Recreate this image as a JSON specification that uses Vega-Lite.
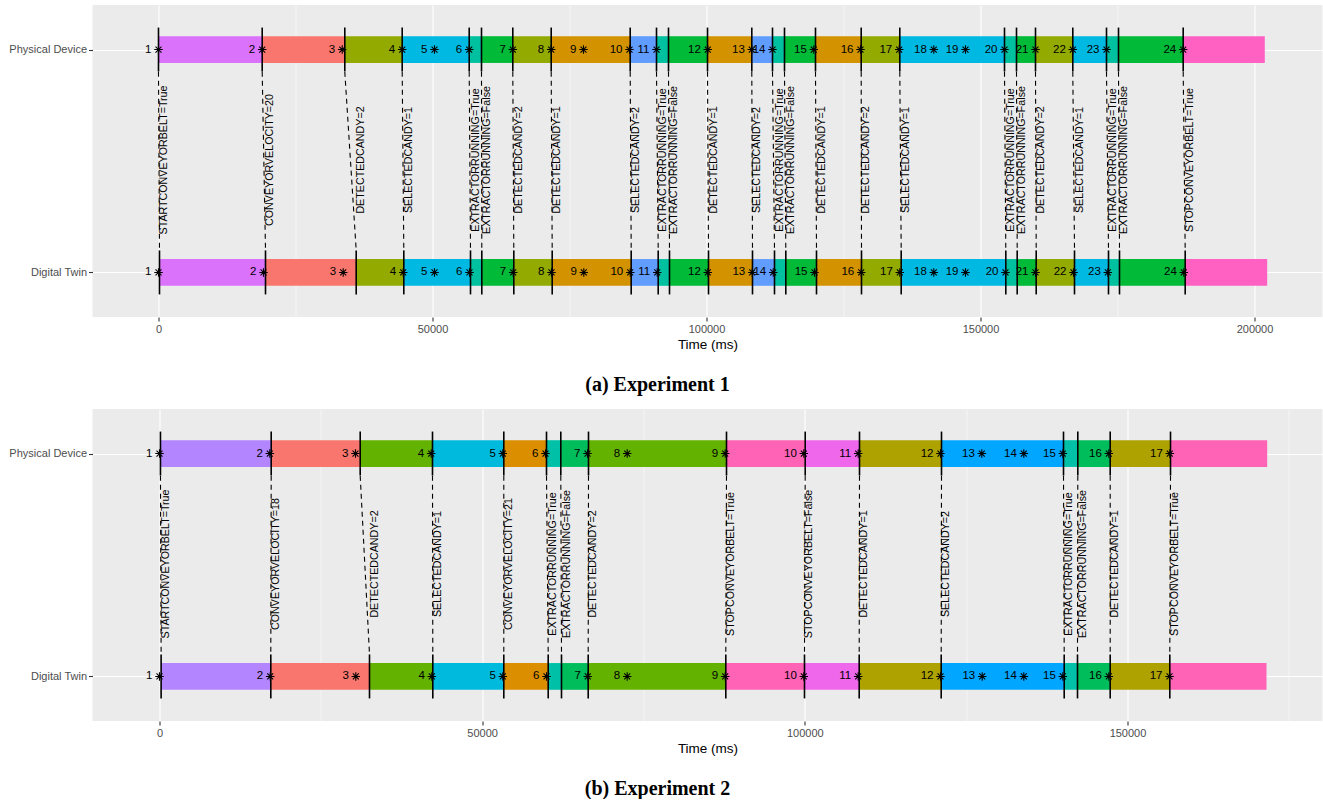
{
  "$schema": "https://vega.github.io/schema/vega-lite/v6.json",
  "padding": {"left": 8.5, "top": 5, "right": 0, "bottom": 0},
  "background": "white",
  "bounds": "flush",
  "spacing": 92,
  "resolve": {"scale": {"x": "independent", "y": "independent", "color": "independent"}},
  "config": {
    "view": {"fill": "#EBEBEB", "stroke": null},
    "font": "Liberation Sans",
    "axis": {
      "domain": false, "grid": true, "gridColor": "white", "gridWidth": 1.1, "zindex": 0,
      "tickColor": "#333333", "tickSize": 4, "tickWidth": 1.1,
      "labelColor": "#4D4D4D", "labelFontSize": 11, "labelFont": "Liberation Sans", "labelPadding": 2,
      "titleFont": "Liberation Sans", "titleFontSize": 13.5, "titleFontWeight": "normal", "titleColor": "black", "titlePadding": 3
    }
  },
  "datasets": {
    "seg1": [
      {"state": "belt started", "p0": 0, "p1": 18923, "t0": 180, "t1": 19525},
      {"state": "velocity set", "p0": 18923, "p1": 33996, "t0": 19525, "t1": 36076},
      {"state": "candy 2 detected", "p0": 33996, "p1": 44470, "t0": 36076, "t1": 44762},
      {"state": "candy 1 selected", "p0": 44470, "p1": 56697, "t0": 44762, "t1": 56934},
      {"state": "extractor on", "p0": 56697, "p1": 58941, "t0": 56934, "t1": 58996},
      {"state": "extractor off", "p0": 58941, "p1": 64653, "t0": 58996, "t1": 64835},
      {"state": "candy 2 detected", "p0": 64653, "p1": 71660, "t0": 64835, "t1": 71842},
      {"state": "candy 1 detected", "p0": 71660, "p1": 86076, "t0": 71842, "t1": 86258},
      {"state": "candy 2 selected", "p0": 86076, "p1": 90875, "t0": 86258, "t1": 91185},
      {"state": "extractor on", "p0": 90875, "p1": 93065, "t0": 91185, "t1": 93247},
      {"state": "extractor off", "p0": 93065, "p1": 100182, "t0": 93247, "t1": 100364},
      {"state": "candy 1 detected", "p0": 100182, "p1": 108265, "t0": 100364, "t1": 108393},
      {"state": "candy 2 selected", "p0": 108265, "p1": 112043, "t0": 108393, "t1": 112408},
      {"state": "extractor on", "p0": 112043, "p1": 114232, "t0": 112408, "t1": 114470},
      {"state": "extractor off", "p0": 114232, "p1": 119889, "t0": 114470, "t1": 120072},
      {"state": "candy 1 detected", "p0": 119889, "p1": 128229, "t0": 120072, "t1": 128283},
      {"state": "candy 2 detected", "p0": 128229, "p1": 135272, "t0": 128283, "t1": 135528},
      {"state": "candy 1 selected", "p0": 135272, "p1": 154378, "t0": 135528, "t1": 154616},
      {"state": "extractor on", "p0": 154378, "p1": 156568, "t0": 154616, "t1": 156696},
      {"state": "extractor off", "p0": 156568, "p1": 160035, "t0": 156696, "t1": 160163},
      {"state": "candy 2 detected", "p0": 160035, "p1": 166841, "t0": 160163, "t1": 167152},
      {"state": "candy 1 selected", "p0": 166841, "p1": 172991, "t0": 167152, "t1": 173356},
      {"state": "extractor on", "p0": 172991, "p1": 175181, "t0": 173356, "t1": 175363},
      {"state": "extractor off", "p0": 175181, "p1": 186987, "t0": 175363, "t1": 187352},
      {"state": "belt stopped", "p0": 186987, "p1": 201878, "t0": 187352, "t1": 202316}
    ],
    "ev1": [
      {"label": "STARTCONVEYORBELT=True", "tPhys": 0, "tTwin": 180},
      {"label": "CONVEYORVELOCITY=20", "tPhys": 18923, "tTwin": 19525},
      {"label": "DETECTEDCANDY=2", "tPhys": 33996, "tTwin": 36076},
      {"label": "SELECTEDCANDY=1", "tPhys": 44470, "tTwin": 44762},
      {"label": "EXTRACTORRUNNING=True", "tPhys": 56697, "tTwin": 56934},
      {"label": "EXTRACTORRUNNING=False", "tPhys": 58941, "tTwin": 58996},
      {"label": "DETECTEDCANDY=2", "tPhys": 64653, "tTwin": 64835},
      {"label": "DETECTEDCANDY=1", "tPhys": 71660, "tTwin": 71842},
      {"label": "SELECTEDCANDY=2", "tPhys": 86076, "tTwin": 86258},
      {"label": "EXTRACTORRUNNING=True", "tPhys": 90875, "tTwin": 91185},
      {"label": "EXTRACTORRUNNING=False", "tPhys": 93065, "tTwin": 93247},
      {"label": "DETECTEDCANDY=1", "tPhys": 100182, "tTwin": 100364},
      {"label": "SELECTEDCANDY=2", "tPhys": 108265, "tTwin": 108393},
      {"label": "EXTRACTORRUNNING=True", "tPhys": 112043, "tTwin": 112408},
      {"label": "EXTRACTORRUNNING=False", "tPhys": 114232, "tTwin": 114470},
      {"label": "DETECTEDCANDY=1", "tPhys": 119889, "tTwin": 120072},
      {"label": "DETECTEDCANDY=2", "tPhys": 128229, "tTwin": 128283},
      {"label": "SELECTEDCANDY=1", "tPhys": 135272, "tTwin": 135528},
      {"label": "EXTRACTORRUNNING=True", "tPhys": 154378, "tTwin": 154616},
      {"label": "EXTRACTORRUNNING=False", "tPhys": 156568, "tTwin": 156696},
      {"label": "DETECTEDCANDY=2", "tPhys": 160035, "tTwin": 160163},
      {"label": "SELECTEDCANDY=1", "tPhys": 166841, "tTwin": 167152},
      {"label": "EXTRACTORRUNNING=True", "tPhys": 172991, "tTwin": 173356},
      {"label": "EXTRACTORRUNNING=False", "tPhys": 175181, "tTwin": 175363},
      {"label": "STOPCONVEYORBELT=True", "tPhys": 186987, "tTwin": 187352}
    ],
    "pt1": [
      {"n": "1", "tPhys": 0, "tTwin": 0},
      {"n": "2", "tPhys": 18923, "tTwin": 19160},
      {"n": "3", "tPhys": 33522, "tTwin": 33704},
      {"n": "4", "tPhys": 44470, "tTwin": 44650},
      {"n": "5", "tPhys": 50364, "tTwin": 50364},
      {"n": "6", "tPhys": 56697, "tTwin": 56752},
      {"n": "7", "tPhys": 64653, "tTwin": 64720},
      {"n": "8", "tPhys": 71660, "tTwin": 71715},
      {"n": "9", "tPhys": 77554, "tTwin": 77609},
      {"n": "10", "tPhys": 85948, "tTwin": 86076},
      {"n": "11", "tPhys": 90875, "tTwin": 91003},
      {"n": "12", "tPhys": 100236, "tTwin": 100236},
      {"n": "13", "tPhys": 108265, "tTwin": 108338},
      {"n": "14", "tPhys": 112043, "tTwin": 112170},
      {"n": "15", "tPhys": 119579, "tTwin": 119707},
      {"n": "16", "tPhys": 128101, "tTwin": 128229},
      {"n": "17", "tPhys": 135162, "tTwin": 135272},
      {"n": "18", "tPhys": 141477, "tTwin": 141477},
      {"n": "19", "tPhys": 147261, "tTwin": 147261},
      {"n": "20", "tPhys": 154378, "tTwin": 154561},
      {"n": "21", "tPhys": 160035, "tTwin": 160035},
      {"n": "22", "tPhys": 166841, "tTwin": 166968},
      {"n": "23", "tPhys": 172991, "tTwin": 173228},
      {"n": "24", "tPhys": 186987, "tTwin": 187097}
    ],
    "seg2": [
      {"state": "belt started", "p0": 150, "p1": 17309, "t0": 250, "t1": 17247},
      {"state": "velocity 18", "p0": 17309, "p1": 31100, "t0": 17247, "t1": 32542},
      {"state": "candy 2 detected", "p0": 31100, "p1": 42304, "t0": 32542, "t1": 42351},
      {"state": "candy 1 selected", "p0": 42304, "p1": 53353, "t0": 42351, "t1": 53353},
      {"state": "velocity 21", "p0": 53353, "p1": 59970, "t0": 53353, "t1": 60233},
      {"state": "extractor on", "p0": 59970, "p1": 62185, "t0": 60233, "t1": 62294},
      {"state": "extractor off", "p0": 62185, "p1": 66478, "t0": 62294, "t1": 66431},
      {"state": "candy 2 detected", "p0": 66478, "p1": 87862, "t0": 66431, "t1": 87754},
      {"state": "belt stopped", "p0": 87862, "p1": 100058, "t0": 87754, "t1": 99949},
      {"state": "belt restarted", "p0": 100058, "p1": 108472, "t0": 99949, "t1": 108425},
      {"state": "candy 1 detected", "p0": 108472, "p1": 121179, "t0": 108425, "t1": 121132},
      {"state": "candy 2 selected", "p0": 121179, "p1": 140084, "t0": 121132, "t1": 140192},
      {"state": "extractor on", "p0": 140084, "p1": 142300, "t0": 140192, "t1": 142253},
      {"state": "extractor off", "p0": 142300, "p1": 147320, "t0": 142253, "t1": 147320},
      {"state": "candy 1 detected", "p0": 147320, "p1": 156665, "t0": 147320, "t1": 156556},
      {"state": "belt stopped", "p0": 156665, "p1": 171649, "t0": 156556, "t1": 171541}
    ],
    "ev2": [
      {"label": "STARTCONVEYORBELT=True", "tPhys": 150, "tTwin": 250},
      {"label": "CONVEYORVELOCITY=18", "tPhys": 17309, "tTwin": 17247},
      {"label": "DETECTEDCANDY=2", "tPhys": 31100, "tTwin": 32542},
      {"label": "SELECTEDCANDY=1", "tPhys": 42304, "tTwin": 42351},
      {"label": "CONVEYORVELOCITY=21", "tPhys": 53353, "tTwin": 53353},
      {"label": "EXTRACTORRUNNING=True", "tPhys": 59970, "tTwin": 60233},
      {"label": "EXTRACTORRUNNING=False", "tPhys": 62185, "tTwin": 62294},
      {"label": "DETECTEDCANDY=2", "tPhys": 66478, "tTwin": 66431},
      {"label": "STOPCONVEYORBELT=True", "tPhys": 87862, "tTwin": 87754},
      {"label": "STOPCONVEYORBELT=False", "tPhys": 100058, "tTwin": 99949},
      {"label": "DETECTEDCANDY=1", "tPhys": 108472, "tTwin": 108425},
      {"label": "SELECTEDCANDY=2", "tPhys": 121179, "tTwin": 121132},
      {"label": "EXTRACTORRUNNING=True", "tPhys": 140084, "tTwin": 140192},
      {"label": "EXTRACTORRUNNING=False", "tPhys": 142300, "tTwin": 142253},
      {"label": "DETECTEDCANDY=1", "tPhys": 147320, "tTwin": 147320},
      {"label": "STOPCONVEYORBELT=True", "tPhys": 156665, "tTwin": 156556}
    ],
    "pt2": [
      {"n": "1", "tPhys": 0, "tTwin": 0},
      {"n": "2", "tPhys": 17092, "tTwin": 17154},
      {"n": "3", "tPhys": 30372, "tTwin": 30419},
      {"n": "4", "tPhys": 42103, "tTwin": 42196},
      {"n": "5", "tPhys": 53198, "tTwin": 53198},
      {"n": "6", "tPhys": 59815, "tTwin": 59970},
      {"n": "7", "tPhys": 66323, "tTwin": 66370},
      {"n": "8", "tPhys": 72474, "tTwin": 72474},
      {"n": "9", "tPhys": 87661, "tTwin": 87661},
      {"n": "10", "tPhys": 99841, "tTwin": 99841},
      {"n": "11", "tPhys": 108270, "tTwin": 108270},
      {"n": "12", "tPhys": 121024, "tTwin": 121024},
      {"n": "13", "tPhys": 127424, "tTwin": 127486},
      {"n": "14", "tPhys": 133934, "tTwin": 133934},
      {"n": "15", "tPhys": 139976, "tTwin": 139976},
      {"n": "16", "tPhys": 147103, "tTwin": 147103},
      {"n": "17", "tPhys": 156556, "tTwin": 156510}
    ]
  },
  "vconcat": [
    {
      "width": 1230,
      "height": 312,
      "title": {"text": "(a) Experiment 1", "orient": "bottom", "anchor": "middle", "dx": -50, "offset": 24, "font": "Liberation Serif", "fontSize": 20, "fontWeight": "bold", "color": "black"},
      "layer": [
        {
          "data": {"name": "seg1"},
          "mark": {"type": "rect"},
          "encoding": {
            "x": {"field": "p0", "type": "quantitative", "scale": {"domain": [-12044, 212407], "nice": false, "zero": false},
              "axis": {"values": [0, 25000, 50000, 75000, 100000, 125000, 150000, 175000, 200000], "format": "d",
                "labelExpr": "datum.value % 50000 === 0 ? datum.label : ''",
                "gridWidth": {"condition": {"test": "datum.value % 50000 === 0", "value": 1.1}, "value": 0.55},
                "tickOpacity": {"condition": {"test": "datum.value % 50000 === 0", "value": 1}, "value": 0},
                "title": "Time (ms)"}},
            "x2": {"field": "p1"},
            "y": {"datum": 1.94, "type": "quantitative", "scale": {"domain": [0.8, 2.2], "nice": false, "zero": false},
              "axis": {"values": [1, 2], "labelExpr": "datum.value == 2 ? 'Physical Device' : 'Digital Twin'", "title": null}},
            "y2": {"datum": 2.06},
            "color": {"field": "state", "type": "nominal", "legend": null,
              "scale": {"domain": ["belt started", "velocity set", "candy 2 detected", "candy 1 selected", "extractor on", "extractor off", "candy 1 detected", "candy 2 selected", "belt stopped"],
                "range": ["#DB72FB", "#F8766D", "#93AA00", "#00B9E3", "#00C19F", "#00BA38", "#D39200", "#619CFF", "#FF61C3"]}}
          }
        },
        {
          "data": {"name": "seg1"},
          "mark": {"type": "rect"},
          "encoding": {
            "x": {"field": "t0", "type": "quantitative"},
            "x2": {"field": "t1"},
            "y": {"datum": 0.94, "type": "quantitative"},
            "y2": {"datum": 1.06},
            "color": {"field": "state", "type": "nominal", "legend": null}
          }
        },
        {
          "data": {"name": "ev1"},
          "mark": {"type": "rule", "strokeDash": [5, 4], "strokeWidth": 1.1, "color": "black"},
          "encoding": {
            "x": {"field": "tPhys", "type": "quantitative"},
            "x2": {"field": "tTwin"},
            "y": {"datum": 1.9, "type": "quantitative"},
            "y2": {"datum": 1.1}
          }
        },
        {
          "data": {"name": "ev1"},
          "mark": {"type": "tick", "orient": "vertical", "size": 44, "thickness": 1.6, "color": "black", "opacity": 1},
          "encoding": {
            "x": {"field": "tPhys", "type": "quantitative"},
            "y": {"datum": 2, "type": "quantitative"}
          }
        },
        {
          "data": {"name": "ev1"},
          "mark": {"type": "tick", "orient": "vertical", "size": 44, "thickness": 1.6, "color": "black", "opacity": 1},
          "encoding": {
            "x": {"field": "tTwin", "type": "quantitative"},
            "y": {"datum": 1, "type": "quantitative"}
          }
        },
        {
          "data": {"name": "ev1"},
          "mark": {"type": "text", "angle": 270, "align": "center", "baseline": "top", "fontSize": 10.7, "font": "Liberation Sans", "color": "black", "dx": 1},
          "encoding": {
            "x": {"field": "tTwin", "type": "quantitative"},
            "y": {"datum": 1.5, "type": "quantitative"},
            "text": {"field": "label"}
          }
        },
        {
          "data": {"name": "pt1"},
          "mark": {"type": "point", "shape": "M-1,0L1,0M0,-1L0,1M-0.7,-0.7L0.7,0.7M-0.7,0.7L0.7,-0.7", "filled": false, "color": "black", "strokeWidth": 1.1, "size": 72, "opacity": 1},
          "encoding": {
            "x": {"field": "tPhys", "type": "quantitative"},
            "y": {"datum": 2, "type": "quantitative"}
          }
        },
        {
          "data": {"name": "pt1"},
          "mark": {"type": "point", "shape": "M-1,0L1,0M0,-1L0,1M-0.7,-0.7L0.7,0.7M-0.7,0.7L0.7,-0.7", "filled": false, "color": "black", "strokeWidth": 1.1, "size": 72, "opacity": 1},
          "encoding": {
            "x": {"field": "tTwin", "type": "quantitative"},
            "y": {"datum": 1, "type": "quantitative"}
          }
        },
        {
          "data": {"name": "pt1"},
          "mark": {"type": "text", "align": "right", "baseline": "middle", "dx": -7, "fontSize": 11.5, "color": "black"},
          "encoding": {
            "x": {"field": "tPhys", "type": "quantitative"},
            "y": {"datum": 2, "type": "quantitative"},
            "text": {"field": "n"}
          }
        },
        {
          "data": {"name": "pt1"},
          "mark": {"type": "text", "align": "right", "baseline": "middle", "dx": -7, "fontSize": 11.5, "color": "black"},
          "encoding": {
            "x": {"field": "tTwin", "type": "quantitative"},
            "y": {"datum": 1, "type": "quantitative"},
            "text": {"field": "n"}
          }
        }
      ]
    },
    {
      "width": 1230,
      "height": 312,
      "title": {"text": "(b) Experiment 2", "orient": "bottom", "anchor": "middle", "dx": -50, "offset": 24, "font": "Liberation Serif", "fontSize": 20, "fontWeight": "bold", "color": "black"},
      "layer": [
        {
          "data": {"name": "seg2"},
          "mark": {"type": "rect"},
          "encoding": {
            "x": {"field": "p0", "type": "quantitative", "scale": {"domain": [-10382, 180218], "nice": false, "zero": false},
              "axis": {"values": [0, 25000, 50000, 75000, 100000, 125000, 150000, 175000], "format": "d",
                "labelExpr": "datum.value % 50000 === 0 ? datum.label : ''",
                "gridWidth": {"condition": {"test": "datum.value % 50000 === 0", "value": 1.1}, "value": 0.55},
                "tickOpacity": {"condition": {"test": "datum.value % 50000 === 0", "value": 1}, "value": 0},
                "title": "Time (ms)"}},
            "x2": {"field": "p1"},
            "y": {"datum": 1.94, "type": "quantitative", "scale": {"domain": [0.8, 2.2], "nice": false, "zero": false},
              "axis": {"values": [1, 2], "labelExpr": "datum.value == 2 ? 'Physical Device' : 'Digital Twin'", "title": null}},
            "y2": {"datum": 2.06},
            "color": {"field": "state", "type": "nominal", "legend": null,
              "scale": {"domain": ["belt started", "velocity 18", "candy 2 detected", "candy 1 selected", "velocity 21", "extractor on", "extractor off", "belt stopped", "belt restarted", "candy 1 detected", "candy 2 selected"],
                "range": ["#B385FF", "#F8766D", "#64B200", "#00BADE", "#DB8E00", "#00C1A7", "#00BD5C", "#FF63B6", "#EF67EB", "#AEA200", "#00A6FF"]}}
          }
        },
        {
          "data": {"name": "seg2"},
          "mark": {"type": "rect"},
          "encoding": {
            "x": {"field": "t0", "type": "quantitative"},
            "x2": {"field": "t1"},
            "y": {"datum": 0.94, "type": "quantitative"},
            "y2": {"datum": 1.06},
            "color": {"field": "state", "type": "nominal", "legend": null}
          }
        },
        {
          "data": {"name": "ev2"},
          "mark": {"type": "rule", "strokeDash": [5, 4], "strokeWidth": 1.1, "color": "black"},
          "encoding": {
            "x": {"field": "tPhys", "type": "quantitative"},
            "x2": {"field": "tTwin"},
            "y": {"datum": 1.9, "type": "quantitative"},
            "y2": {"datum": 1.1}
          }
        },
        {
          "data": {"name": "ev2"},
          "mark": {"type": "tick", "orient": "vertical", "size": 44, "thickness": 1.6, "color": "black", "opacity": 1},
          "encoding": {
            "x": {"field": "tPhys", "type": "quantitative"},
            "y": {"datum": 2, "type": "quantitative"}
          }
        },
        {
          "data": {"name": "ev2"},
          "mark": {"type": "tick", "orient": "vertical", "size": 44, "thickness": 1.6, "color": "black", "opacity": 1},
          "encoding": {
            "x": {"field": "tTwin", "type": "quantitative"},
            "y": {"datum": 1, "type": "quantitative"}
          }
        },
        {
          "data": {"name": "ev2"},
          "mark": {"type": "text", "angle": 270, "align": "center", "baseline": "top", "fontSize": 10.7, "font": "Liberation Sans", "color": "black", "dx": 1},
          "encoding": {
            "x": {"field": "tTwin", "type": "quantitative"},
            "y": {"datum": 1.5, "type": "quantitative"},
            "text": {"field": "label"}
          }
        },
        {
          "data": {"name": "pt2"},
          "mark": {"type": "point", "shape": "M-1,0L1,0M0,-1L0,1M-0.7,-0.7L0.7,0.7M-0.7,0.7L0.7,-0.7", "filled": false, "color": "black", "strokeWidth": 1.1, "size": 72, "opacity": 1},
          "encoding": {
            "x": {"field": "tPhys", "type": "quantitative"},
            "y": {"datum": 2, "type": "quantitative"}
          }
        },
        {
          "data": {"name": "pt2"},
          "mark": {"type": "point", "shape": "M-1,0L1,0M0,-1L0,1M-0.7,-0.7L0.7,0.7M-0.7,0.7L0.7,-0.7", "filled": false, "color": "black", "strokeWidth": 1.1, "size": 72, "opacity": 1},
          "encoding": {
            "x": {"field": "tTwin", "type": "quantitative"},
            "y": {"datum": 1, "type": "quantitative"}
          }
        },
        {
          "data": {"name": "pt2"},
          "mark": {"type": "text", "align": "right", "baseline": "middle", "dx": -7, "fontSize": 11.5, "color": "black"},
          "encoding": {
            "x": {"field": "tPhys", "type": "quantitative"},
            "y": {"datum": 2, "type": "quantitative"},
            "text": {"field": "n"}
          }
        },
        {
          "data": {"name": "pt2"},
          "mark": {"type": "text", "align": "right", "baseline": "middle", "dx": -7, "fontSize": 11.5, "color": "black"},
          "encoding": {
            "x": {"field": "tTwin", "type": "quantitative"},
            "y": {"datum": 1, "type": "quantitative"},
            "text": {"field": "n"}
          }
        }
      ]
    }
  ]
}
